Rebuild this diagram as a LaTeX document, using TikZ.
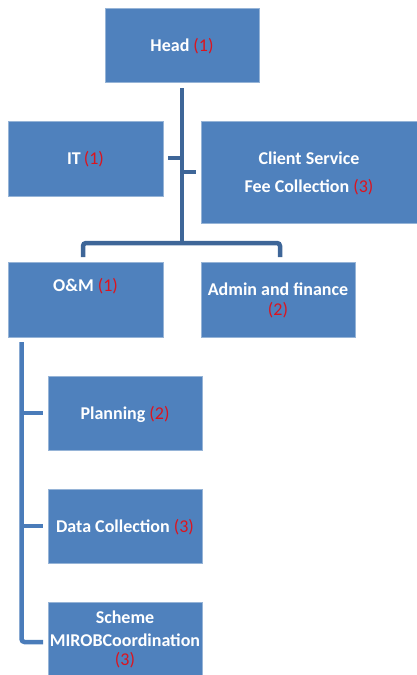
\documentclass[tikz,border=0pt]{standalone}
\usepackage{fontspec}
\setmainfont{Carlito}
\definecolor{boxblue}{RGB}{79,129,189}
\definecolor{boxedge}{RGB}{150,180,215}
\definecolor{trunk}{RGB}{62,102,152}
\definecolor{branch}{RGB}{74,124,186}
\definecolor{numred}{RGB}{220,20,30}
\tikzset{
  orgbox/.style={fill=boxblue, draw=boxedge, line width=0.6pt},
  lbl/.style={text=white, font=\fontsize{18}{21}\selectfont\bfseries, anchor=base, inner sep=0pt},
  trunkline/.style={draw=trunk, line width=4.5pt, rounded corners=3pt},
  branchline/.style={draw=branch, line width=4.5pt, rounded corners=3pt},
}
\newcommand{\nr}[1]{\textcolor{numred}{\mdseries(#1)}}
\begin{document}
\begin{tikzpicture}[x=1pt,y=-1pt]
\useasboundingbox (0,0) rectangle (417,675);
\clip (0,0) rectangle (417,675);
% boxes
\path[orgbox] (105,8) rectangle (259,82);
\node[inner sep=0pt] (head) at (182,45) {};
\path[orgbox] (8,121) rectangle (163,196);
\node[inner sep=0pt] (it) at (163,158) {};
\path[orgbox] (201,121) rectangle (430,223);
\node[inner sep=0pt] (cs) at (201,172) {};
\path[orgbox] (8,262) rectangle (163,337);
\path[orgbox] (201,262) rectangle (355,337);
\path[orgbox] (48,376) rectangle (202,450);
\path[orgbox] (48,489) rectangle (202,563);
\path[orgbox] (48,602) rectangle (202,690);
% connector coordinates
\coordinate (t0) at (182,88);
\coordinate (t1) at (182,243);
\coordinate (itj) at (182,158);
\coordinate (csj) at (182,172);
\coordinate (itend) at (168,158);
\coordinate (csend) at (196,172);
\coordinate (omtop) at (83,257);
\coordinate (aftop) at (280,257);
\coordinate (om0) at (21.5,342);
\coordinate (pl) at (43,413);
\coordinate (dc) at (43,526);
\coordinate (sc) at (43,642);
% connectors
\draw[trunkline] (t0) -- (t1);
\draw[trunkline] (omtop) -- (83,243) -- (280,243) -- (aftop);
\draw[trunkline, rounded corners=0pt] (itend) -- (itj);
\draw[trunkline, rounded corners=0pt] (csj) -- (csend);
\draw[branchline] (om0) -- (21.5,642) -- (sc);
\draw[branchline, rounded corners=0pt] (21.5,413) -- (pl);
\draw[branchline, rounded corners=0pt] (21.5,526) -- (dc);
% labels
\node[lbl] (headt) at (182,51) {Head \nr{1}};
\node[lbl] (itt) at (85.5,164) {IT\,\nr{1}};
\node[lbl] (cst1) at (309,164) {Client Service};
\node[lbl] (cst2) at (309,192) {Fee Collection \nr{3}};
\node[lbl] (omt) at (85.5,291) {O\&M \nr{1}};
\node[lbl] (aft1) at (278,295) {Admin and finance};
\node[lbl] (aft2) at (278,315) {\nr{2}};
\node[lbl] (plt) at (125,419) {Planning \nr{2}};
\node[lbl] (dct) at (125,532) {Data Collection \nr{3}};
\node[lbl] (sct1) at (125,623) {Scheme};
\node[lbl] (sct2) at (125,646) {MIROBCoordination};
\node[lbl] (sct3) at (125,665) {\nr{3}};
\end{tikzpicture}
\end{document}
